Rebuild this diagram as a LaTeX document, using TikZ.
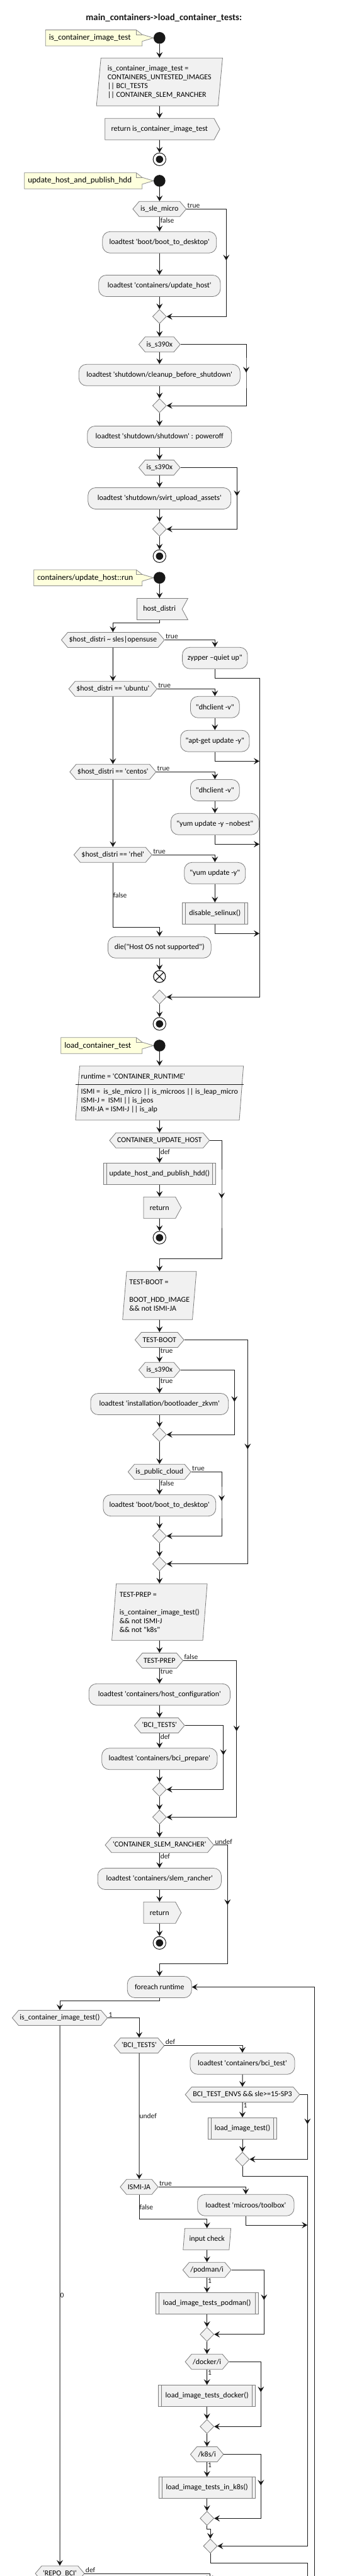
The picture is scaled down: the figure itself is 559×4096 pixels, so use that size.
\documentclass[tikz,border=0pt]{standalone}
\usepackage{fontspec}
\newfontfamily\diafont{Carlito}
\usetikzlibrary{arrows.meta,shapes.geometric,shapes.symbols,decorations.markings,backgrounds,calc}
\definecolor{actfill}{HTML}{F1F1F1}
\definecolor{boxline}{HTML}{7C7C7C}
\definecolor{dark}{HTML}{181818}
\definecolor{notefill}{HTML}{FEFFDD}
\definecolor{notedraw}{HTML}{8C8C8C}
\begin{document}
\begin{tikzpicture}[x=1pt, y=-1pt,
  font=\diafont\fontsize{12}{14}\selectfont,
  wire/.style={draw=dark, line width=1pt},
  flow/.style={wire, -{Stealth[length=9pt, width=10pt, inset=3.5pt]}},
  midarrow/.style={postaction={decorate, decoration={markings, mark=at position #1 with {\arrow{Stealth[length=9pt, width=10pt, inset=3.5pt]}}}}},
  act/.style={draw=boxline, line width=0.8pt, fill=actfill, rounded corners=12pt, minimum height=34pt, inner xsep=6pt, inner ysep=0pt},
  subproc/.style={draw=boxline, line width=0.8pt, fill=actfill, minimum height=34pt, inner xsep=8pt, inner ysep=0pt,
    path picture={\draw[boxline, line width=0.8pt] ([xshift=5pt]path picture bounding box.south west) -- ([xshift=5pt]path picture bounding box.north west) ([xshift=-5pt]path picture bounding box.south east) -- ([xshift=-5pt]path picture bounding box.north east);}},
  hexa/.style={signal, signal to=east and west, signal pointer angle=100, draw=boxline, line width=0.8pt, fill=actfill, minimum height=24pt, inner xsep=2pt, inner ysep=0pt},
  ret/.style={signal, signal to=east, signal pointer angle=123, draw=boxline, line width=0.8pt, fill=actfill, minimum height=34pt, inner xsep=10pt, inner ysep=0pt},
  flag/.style={ret, signal to=nowhere, signal from=east},
  para/.style={trapezium, trapezium left angle=84, trapezium right angle=96, trapezium stretches=true, draw=boxline, line width=0.8pt, fill=actfill, align=left, inner xsep=2pt, inner ysep=0pt},
  merge/.style={diamond, draw=boxline, line width=0.8pt, fill=actfill, minimum width=22pt, minimum height=22.6pt, inner sep=0pt},
  initnode/.style={circle, fill=dark, minimum size=18.7pt, inner sep=0pt},
  stopnode/.style={circle, draw=dark, line width=1pt, fill=white, minimum size=20.3pt, inner sep=0pt,
    path picture={\fill[dark] (path picture bounding box.center) circle (5.8pt);}},
  endx/.style={circle, draw=dark, line width=1.2pt, fill=white, minimum size=19pt, inner sep=0pt,
    path picture={\draw[dark, line width=1.2pt] (path picture bounding box.south west) -- (path picture bounding box.north east) (path picture bounding box.north west) -- (path picture bounding box.south east);}},
  note/.style={anchor=west, inner xsep=5.4pt, inner ysep=0pt, minimum height=25pt, font=\diafont\fontsize{13}{15}\selectfont},
  noteline/.style={draw=notedraw, line width=0.8pt, fill=notefill},
  lbl/.style={font=\diafont\fontsize{11.5}{13}\selectfont, text=dark, inner sep=1pt},
  titlef/.style={font=\diafont\bfseries\fontsize{14.8}{17}\selectfont, text=dark}]
\useasboundingbox (0,0) rectangle (559,4096);

\node[titlef] (title) at (260.3,28) {main\_containers->load\_container\_tests:};

\node[initnode] (s1) at (253.3,60.3) {};
\node[note] (n1) at (72.3,60.3) {is\_container\_image\_test};
\node[para, trapezium left angle=83, trapezium right angle=97, minimum width=200.7pt, minimum height=76pt] (p1) at (253.3,130.3) {is\_container\_image\_test =\\CONTAINERS\_UNTESTED\_IMAGES\\|| BCI\_TESTS\\|| CONTAINER\_SLEM\_RANCHER};
\node[ret] (r1) at (253.3,205.3) {return is\_container\_image\_test};
\node[stopnode] (e1) at (253.3,253.3) {};

\node[initnode] (s2) at (253.3,287.5) {};
\node[note] (n2) at (38.7,287.5) {update\_host\_and\_publish\_hdd};
\node[hexa] (d1) at (253.3,332.3) {is\_sle\_micro};
\node[act, minimum width=181pt] (a1) at (253.3,385.3) {loadtest 'boot/boot\_to\_desktop'};
\node[act, minimum width=193.3pt] (a2) at (253.3,454.5) {loadtest 'containers/update\_host'};
\node[merge] (m1) at (253.3,503.3) {};
\node[hexa] (d2) at (253.3,547.7) {is\_s390x};
\node[act, minimum width=256pt] (a3) at (253.3,596.3) {loadtest 'shutdown/cleanup\_before\_shutdown'};
\node[merge] (m2) at (253.3,645) {};
\node[act, minimum width=229pt] (a4) at (253.3,694.5) {loadtest 'shutdown/shutdown' : poweroff};
\node[hexa] (d3) at (253.3,743.5) {is\_s390x};
\node[act, minimum width=227pt] (a5) at (253.3,792.5) {loadtest 'shutdown/svirt\_upload\_assets'};
\node[merge] (m3) at (253.3,841.3) {};
\node[stopnode] (e2) at (253.3,884.3) {};

\node[initnode] (s3) at (253.3,918.7) {};
\node[note] (n3) at (53.7,918.7) {containers/update\_host::run};
\node[flag] (h1) at (253.3,968.5) {host\_distri};
\node[hexa] (d4) at (179.3,1017.5) {\$host\_distri \textasciitilde{} sles|opensuse};
\node[act, minimum width=103.4pt] (a6) at (341.3,1046.3) {zypper –quiet up"};
\node[hexa] (d5) at (179.3,1095.3) {\$host\_distri == 'ubuntu'};
\node[act, minimum width=77.7pt] (a7) at (341.3,1124.3) {"dhclient -v"};
\node[act, minimum width=109.3pt] (a8) at (341.3,1178.2) {"apt-get update -y"};
\node[hexa] (d6) at (179.3,1227.3) {\$host\_distri == 'centos'};
\node[act, minimum width=77.7pt] (a9) at (341.3,1256.5) {"dhclient -v"};
\node[act, minimum width=139.6pt] (a10) at (341.3,1310.3) {"yum update -y –nobest"};
\node[hexa] (d7) at (179.3,1359.2) {\$host\_distri == 'rhel'};
\node[act, minimum width=97pt] (a11) at (341.3,1388.3) {"yum update -y"};
\node[subproc, minimum width=104pt] (sb1) at (341.3,1452.3) {disable\_selinux()};
\node[act, minimum width=163.7pt] (a12) at (253.3,1506.3) {die("Host OS not supported")};
\node[endx] (x1) at (253.3,1552.7) {};
\node[merge] (m4) at (253.3,1585.3) {};
\node[stopnode] (e3) at (253.3,1628) {};
\coordinate (j1) at (412,1210.3);
\coordinate (j2) at (412,1342.3);
\coordinate (j3) at (412,1484.3);

\node[initnode] (s4) at (253.3,1662.5) {};
\node[note] (n4) at (96.7,1662.5) {load\_container\_test};
\node[para, minimum width=265pt, minimum height=86pt] (p2) at (253.3,1738) {runtime = 'CONTAINER\_RUNTIME'\\[10pt]ISMI = \ is\_sle\_micro || is\_microos || is\_leap\_micro\\ISMI-J = \ ISMI || is\_jeos\\ISMI-JA = ISMI-J || is\_alp};
\node[hexa] (d8) at (253.3,1813.3) {CONTAINER\_UPDATE\_HOST};
\node[subproc, minimum width=178.7pt] (sb2) at (253.3,1866.3) {update\_host\_and\_publish\_hdd()};
\node[ret] (r2) at (253.3,1920.3) {return};
\node[stopnode] (e4) at (253.3,1968) {};
\node[para, trapezium left angle=83, trapezium right angle=97, minimum width=117.3pt, minimum height=76.6pt] (p3) at (253.3,2060) {TEST-BOOT =\\[14pt]BOOT\_HDD\_IMAGE\\\&\& not ISMI-JA};
\node[hexa] (d9) at (253.3,2130.5) {TEST-BOOT};
\node[hexa] (d10) at (253.3,2178.3) {is\_s390x};
\node[act, minimum width=218.7pt] (a13) at (253.3,2232.5) {loadtest 'installation/bootloader\_zkvm'};
\node[merge] (m5) at (253.3,2281) {};
\node[hexa] (d11) at (253.3,2340.3) {is\_public\_cloud};
\node[act, minimum width=178.7pt] (a14) at (253.3,2393.7) {loadtest 'boot/boot\_to\_desktop'};
\node[merge] (m6) at (253.3,2442.3) {};
\node[merge] (m7) at (253.3,2486.7) {};
\node[para, minimum width=151.7pt, minimum height=90pt] (p4) at (253.3,2563.3) {TEST-PREP =\\[14pt]is\_container\_image\_test()\\\&\& not ISMI-J\\\&\& not "k8s"};
\node[hexa] (d12) at (253.3,2640.5) {TEST-PREP};
\node[act, minimum width=224.3pt] (a15) at (253.3,2694.3) {loadtest 'containers/host\_configuration'};
\node[hexa] (d13) at (253.3,2743.5) {'BCI\_TESTS'};
\node[act, minimum width=183.3pt] (a16) at (253.3,2796.7) {loadtest 'containers/bci\_prepare'};
\node[merge] (m8) at (253.3,2845.3) {};
\node[merge] (m9) at (253.3,2889.3) {};
\node[hexa] (d14) at (253.3,2933.7) {'CONTAINER\_SLEM\_RANCHER'};
\node[act, minimum width=196.3pt] (a17) at (253.3,2987.5) {loadtest 'containers/slem\_rancher'};
\node[ret] (r3) at (253.3,3041.3) {return};
\node[stopnode] (e5) at (253.3,3089.3) {};
\node[act, minimum width=102pt] (a18) at (253.3,3159.5) {foreach runtime};
\node[hexa] (d15) at (95,3208.5) {is\_container\_image\_test()};
\node[hexa] (d16) at (221,3252.5) {'BCI\_TESTS'};
\node[act, minimum width=166pt] (a19) at (385,3281.3) {loadtest 'containers/bci\_test'};
\node[hexa] (d17) at (385,3330.5) {BCI\_TEST\_ENVS \&\& sle>=15-SP3};
\node[subproc, minimum width=109.7pt] (sb3) at (385,3384.2) {load\_image\_test()};
\node[merge] (m10) at (385,3433.3) {};
\node[hexa] (d18) at (221,3477.3) {ISMI-JA};
\node[act, minimum width=153.3pt] (a20) at (390.3,3506.3) {loadtest 'microos/toolbox'};
\node[para, trapezium left angle=77, trapezium right angle=103, minimum width=76.3pt, minimum height=34pt] (p5) at (328.7,3560.3) {input check};
\node[hexa] (d19) at (328.7,3609.3) {/podman/i};
\node[subproc, minimum width=162.7pt] (sb4) at (328.7,3662.5) {load\_image\_tests\_podman()};
\node[merge] (m11) at (328.7,3711.7) {};
\node[hexa] (d20) at (328.7,3755.3) {/docker/i};
\node[subproc, minimum width=154.3pt] (sb5) at (328.7,3809.5) {load\_image\_tests\_docker()};
\node[merge] (m12) at (328.7,3858.3) {};
\node[hexa] (d21) at (328.7,3902.5) {/k8s/i};
\node[subproc, minimum width=153.3pt] (sb6) at (328.7,3955.5) {load\_image\_tests\_in\_k8s()};
\node[merge] (m13) at (328.7,4004.3) {};
\node[merge] (m14) at (334,4048.3) {};
\node[hexa] (d22) at (95,4092) {'REPO\_BCI'};
\coordinate (j4) at (488.3,3538);
\coordinate (off1) at (488.3,4110);
\coordinate (off2) at (499.7,4110);
\coordinate (off3) at (333.3,4104);

\draw[dark, line width=0.8pt] (p2.bottom left corner |- 0,1724.3) -- (p2.top right corner |- 0,1724.3);

\foreach \a/\b in {s1/p1, p1/r1, r1/e1, s2/d1, a1/a2, a2/m1, m1/d2, d2/a3, a3/m2, m2/a4, a4/d3, d3/a5, a5/m3, m3/e2,
  s3/h1, d4/d5, d5/d6, d6/d7, a7/a8, a9/a10, a11/sb1, a12/x1, m4/e3, s4/p2, p2/d8, sb2/r2, r2/e4,
  p3/d9, a13/m5, m5/d11, a14/m6, m6/m7, m7/p4, p4/d12, a15/d13, a16/m8, m8/m9, m9/d14, a17/r3, r3/e5,
  a19/d17, sb3/m10, p5/d19, sb4/m11, m11/d20, sb5/m12, m12/d21, sb6/m13}
  \draw[flow] (\a) -- (\b);
\foreach \a/\b/\lab in {d1/a1/false, d8/sb2/def, d9/d10/true, d10/a13/true, d11/a14/false, d12/a15/true,
  d13/a16/def, d14/a17/def, d17/sb3/1, d19/sb4/1, d20/sb5/1, d21/sb6/1}
  \draw[flow] (\a) -- (\b) node[lbl, pos=0, anchor=north west] {\lab};

\draw[flow, midarrow=145pt] (d1.east) node[lbl, anchor=south west] {true} -| (359.3,414) |- (m1);
\draw[flow, midarrow=149pt] (d2.east) -| (391,590) |- (m2);
\draw[flow, midarrow=135pt] (d3.east) -| (376.3,786.7) |- (m3);
\draw[flow] (h1.south) -- ++(0,4.7) -| (d4);
\draw[flow] (d4.east) node[lbl, anchor=south west] {true} -| (a6);
\draw[flow] (d5.east) node[lbl, anchor=south west] {true} -| (a7);
\draw[flow] (d6.east) node[lbl, anchor=south west] {true} -| (a9);
\draw[flow] (d7.east) node[lbl, anchor=south west] {true} -| (a11);
\draw[flow] (a6) |- (412,1078.3) |- (m4);
\draw[flow] (a8) |- (j1);
\draw[flow] (a10) |- (j2);
\draw[flow] (sb1) |- (j3);
\draw[flow] (d7.south) -- node[lbl, anchor=west, inner sep=0pt] {false} ++(0,103.3) -| (a12);

\draw[flow, midarrow=111pt] (d8.east) -| (352,1905) -- (352,2001) -| (p3);
\draw[flow, midarrow=274.6pt] (d9.east) -| (393.3,2305) |- (m7);
\draw[flow, midarrow=136.4pt] (d10.east) -| (372.3,2226.7) |- (m5);
\draw[flow, midarrow=94.4pt] (d11.east) node[lbl, anchor=south west] {true} -| (352,2387) |- (m6);
\draw[flow, midarrow=196.9pt] (d12.east) node[lbl, anchor=south west] {false} -| (375.7,2755) |- (m9);
\draw[flow, midarrow=108.2pt] (d13.east) -| (354.7,2791.7) |- (m8);
\draw[flow, midarrow=116.6pt] (d14.east) node[lbl, anchor=south west] {undef} -| (361.3,3026.7) -- (361.3,3122) -| (a18);
\draw[flow] (a18.south) -- ++(0,5) -| (d15);
\draw[flow] (d15.east) node[lbl, anchor=south west] {1} -| (d16);
\draw[flow] (d16.east) node[lbl, anchor=south west] {def} -| (a19);
\draw[flow] (d16) -- node[lbl, anchor=west, inner sep=0pt] {undef} (d18);
\draw[flow, midarrow=59.1pt] (d17.east) -| (488.3,3378.3) |- (m10);
\draw[flow] (m10) |- (488.3,3460.3) |- (m14);
\draw[flow] (d18.east) node[lbl, anchor=south west] {true} -| (a20);
\draw[flow] (a20) |- (j4);
\draw[flow] (d18.south) -- node[lbl, anchor=west, inner sep=0pt] {false} ++(0,38.7) -| (p5);
\draw[flow, midarrow=99.7pt] (d19.east) -| (419.3,3656.7) |- (m11);
\draw[flow, midarrow=99pt] (d20.east) -| (414.3,3803.3) |- (m12);
\draw[flow, midarrow=108.5pt] (d21.east) -| (414.3,3950) |- (m13);
\draw[flow] (m13.south) -- ++(0,5.4) -| (m14);
\draw[wire] (m14.south) |- (488.3,4075) -- (off1);
\draw[flow] (off2) |- (a18);
\draw[flow] (d15) -- node[lbl, anchor=west, inner sep=0pt] {0} (d22);
\draw[flow] (d22.east) node[lbl, anchor=south west] {def} -| (off3);

\begin{scope}[on background layer]
\fill[white] (0,0) rectangle (559,4096);
\foreach \n/\s in {n1/s1, n2/s2, n3/s3, n4/s4} {
  \path ($(\s.west |- \n.north)+(-18,0)$) coordinate (nr) ($(\s.west |- \n.south)+(-18,0)$) coordinate (nb);
  \draw[noteline] (\n.north west) -- ($(nr)+(-9.3,0)$) -- ($(nr)+(0,7.3)$) -- (\s.west) -- ($(nb)+(0,-7.3)$) -- (nb) -- (\n.south west) -- cycle;
  \draw[noteline, fill=none] ($(nr)+(-9.3,0)$) |- ($(nr)+(0,7.3)$);
}
\end{scope}
\end{tikzpicture}
\end{document}
